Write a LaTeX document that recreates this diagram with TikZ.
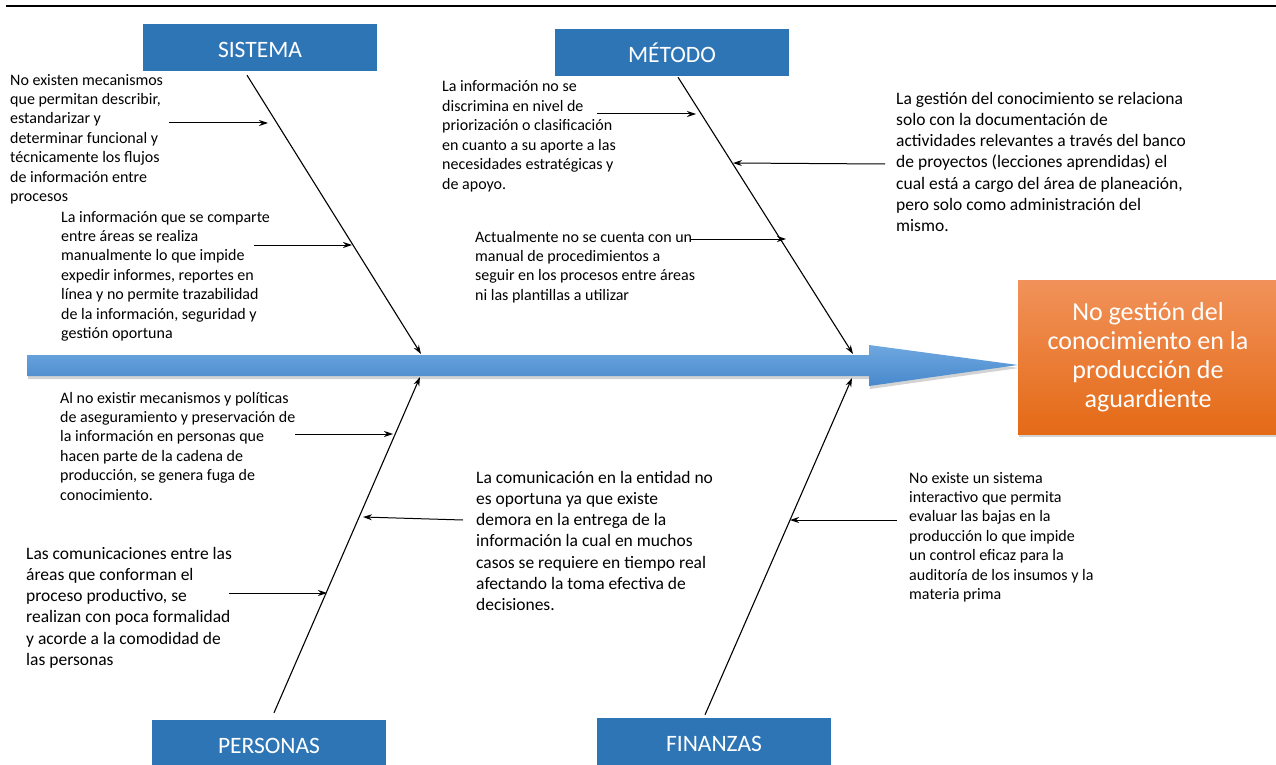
\documentclass[tikz,border=0pt]{standalone}
\usepackage{fontspec}
\setmainfont{Carlito}
\usetikzlibrary{arrows.meta,shadows}
\definecolor{catblue}{RGB}{46,117,182}
\definecolor{spinetop}{RGB}{110,168,224}
\definecolor{spinebot}{RGB}{72,136,204}
\definecolor{effecttop}{RGB}{241,146,90}
\definecolor{effectbot}{RGB}{228,106,22}

\begin{document}
\begin{tikzpicture}
  [x=1pt,y=-1pt,
   cat/.style={rectangle,fill=catblue,text=white,inner sep=0pt,
     minimum width=234pt,minimum height=47pt,text height=20pt,text depth=0pt,
     font=\fontsize{23.5}{28}\selectfont},
   cause/.style={anchor=base west,align=left,inner sep=0pt,font=\fontsize{16}{19.4}\selectfont},
   bigcause/.style={cause,font=\fontsize{17.5}{21.3}\selectfont},
   effect/.style={rectangle,inner sep=0pt,minimum width=260pt,minimum height=154pt,
     top color=effecttop,bottom color=effectbot,text=white,align=center,
     font=\fontsize{26}{29}\selectfont,
     drop shadow={shadow xshift=1pt,shadow yshift=-3pt,opacity=0.35}},
   bone/.style={line width=1.1pt,-{Stealth[length=9pt,width=6pt,inset=3pt]}},
   sub/.style={line width=1pt,-{Stealth[length=9pt,width=6pt,inset=3pt]}}]

  \useasboundingbox (0,0) rectangle (1276,765);
  \draw[line width=2.5pt] (6,6) -- (1276,6);

  % spine
  \shade[top color=spinetop,bottom color=spinebot,
    drop shadow={shadow xshift=1pt,shadow yshift=-3pt,opacity=0.35}]
    (27,355) -- (869,355) -- (869,345) -- (1018,365) -- (869,386) -- (869,376) -- (27,376) -- cycle;
  \node[effect] (eff) at (1148,357) {No gestión del\\conocimiento en la\\producción de\\aguardiente};

  % categories
  \node[cat] (sis) at (260,47.5) {SISTEMA};
  \node[cat] (met) at (672,52.5) {MÉTODO};
  \node[cat] (per) at (269,743) {PERSONAS};
  \node[cat] (fin) at (714,741) {FINANZAS};

  \coordinate (sisend) at (421,354);
  \coordinate (metend) at (853,354);
  \coordinate (perend) at (420,377);
  \coordinate (finend) at (852,378);

  \draw[bone] ([xshift=-13pt,yshift=-4pt]sis.south) -- (sisend);
  \draw[bone] ([xshift=6pt,yshift=-1pt]met.south) -- (metend);
  \draw[bone] ([xshift=5pt,yshift=6.5pt]per.north) -- (perend);
  \draw[bone] ([xshift=-9pt,yshift=2.5pt]fin.north) -- (finend);

  % causes (placed at the baseline of their last line)
  \node[cause] (ts1) at (10,201.4) {No existen mecanismos\\que permitan describir,\\estandarizar y\\determinar funcional y\\técnicamente los flujos\\de información entre\\procesos};
  \node[cause] (ts2) at (61,338.4) {La información que se comparte\\entre áreas se realiza\\manualmente lo que impide\\expedir informes, reportes en\\línea y no permite trazabilidad\\de la información, seguridad y\\gestión oportuna};
  \node[cause] (tm1) at (442,189) {La información no se\\discrimina en nivel de\\priorización o clasificación\\en cuanto a su aporte a las\\necesidades estratégicas y\\de apoyo.};
  \node[bigcause] (tm2) at (896,231.8) {La gestión del conocimiento se relaciona\\solo con la documentación de\\actividades relevantes a través del banco\\de proyectos (lecciones aprendidas) el\\cual está a cargo del área de planeación,\\pero solo como administración del\\mismo.};
  \node[cause] (tm3) at (475,300.2) {Actualmente no se cuenta con un\\manual de procedimientos a\\seguir en los procesos entre áreas\\ni las plantillas a utilizar};
  \node[cause] (tp1) at (60,500) {Al no existir mecanismos y políticas\\de aseguramiento y preservación de\\la información en personas que\\hacen parte de la cadena de\\producción, se genera fuga de\\conocimiento.};
  \node[bigcause] (tp2) at (476,610.8) {La comunicación en la entidad no\\es oportuna ya que existe\\demora en la entrega de la\\información la cual en muchos\\casos se requiere en tiempo real\\afectando la toma efectiva de\\decisiones.};
  \node[bigcause] (tp3) at (26,665.5) {Las comunicaciones entre las\\áreas que conforman el\\proceso productivo, se\\realizan con poca formalidad\\y acorde a la comodidad de\\las personas};
  \node[cause] (tf1) at (909,599.4) {No existe un sistema\\interactivo que permita\\evaluar las bajas en la\\producción lo que impide\\un control eficaz para la\\auditoría de los insumos y la\\materia prima};

  \coordinate (s1a) at (169,123); \coordinate (s1b) at (268,123);
  \coordinate (s2a) at (254,245); \coordinate (s2b) at (352,245);
  \coordinate (m1a) at (597,114); \coordinate (m1b) at (696,114);
  \coordinate (m2a) at (885,164); \coordinate (m2b) at (733,163);
  \coordinate (m3a) at (690,239); \coordinate (m3b) at (786,239);
  \coordinate (p1a) at (295,434); \coordinate (p1b) at (393,434);
  \coordinate (p2a) at (463,520); \coordinate (p2b) at (363,517);
  \coordinate (p3a) at (229,593); \coordinate (p3b) at (327,593);
  \coordinate (f1a) at (897,520); \coordinate (f1b) at (790,520);
  \foreach \from/\to in {s1a/s1b,s2a/s2b,m1a/m1b,m2a/m2b,m3a/m3b,p1a/p1b,p2a/p2b,p3a/p3b,f1a/f1b}
    \draw[sub] (\from) -- (\to);
\end{tikzpicture}
\end{document}
